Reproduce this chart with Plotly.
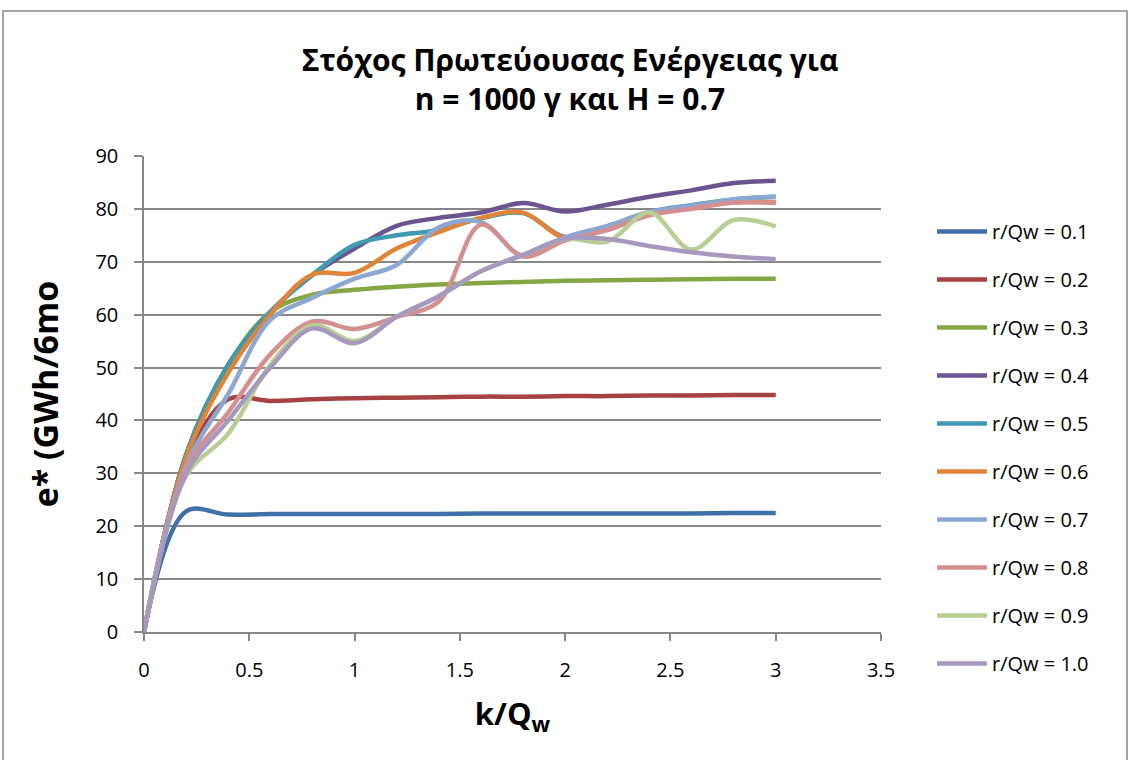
import plotly.graph_objects as go

# k/Qw sample points
k_qw = [0.0, 0.2, 0.4, 0.6, 0.8, 1.0, 1.2, 1.4, 1.6, 1.8, 2.0, 2.2, 2.4, 2.6, 2.8, 3.0]

# Primary energy target e* for each r/Qw ratio
e_r01 = [0, 22.8, 22.2, 22.3, 22.3, 22.3, 22.3, 22.3, 22.4, 22.4, 22.4, 22.4, 22.4, 22.4, 22.5, 22.5]
e_r02 = [0, 32.0, 44.0, 43.7, 44.0, 44.2, 44.3, 44.4, 44.5, 44.5, 44.6, 44.6, 44.7, 44.7, 44.8, 44.8]
e_r03 = [0, 33.5, 50.5, 60.5, 63.8, 64.7, 65.3, 65.7, 66.0, 66.2, 66.4, 66.5, 66.6, 66.7, 66.8, 66.8]
e_r04 = [0, 33.5, 50.5, 60.5, 67.5, 72.5, 76.8, 78.3, 79.3, 81.1, 79.5, 80.8, 82.3, 83.5, 84.9, 85.3]
e_r05 = [0, 33.5, 50.5, 60.5, 67.5, 73.2, 75.0, 76.0, 78.2, 79.2, 74.7, 76.7, 79.4, 80.7, 81.8, 82.3]
e_r06 = [0, 33.0, 49.0, 60.0, 67.6, 67.9, 72.5, 75.6, 78.3, 79.3, 74.5, 76.3, 78.9, 80.2, 81.2, 81.3]
e_r07 = [0, 31.5, 45.0, 59.0, 63.2, 66.8, 69.4, 76.5, 77.5, 71.2, 74.6, 76.8, 79.4, 80.6, 81.8, 82.3]
e_r08 = [0, 31.0, 41.5, 52.5, 58.7, 57.3, 59.6, 62.5, 77.0, 71.0, 74.0, 76.0, 78.8, 80.0, 81.2, 81.1]
e_r09 = [0, 29.5, 37.5, 50.5, 58.0, 55.0, 59.6, 63.5, 68.2, 71.3, 74.3, 73.8, 79.3, 72.3, 77.9, 76.7]
e_r10 = [0, 30.0, 40.0, 50.0, 57.4, 54.6, 59.6, 63.5, 68.2, 71.3, 74.4, 74.3, 73.0, 71.8, 71.0, 70.5]

series_names = ["r/Qw = 0.1", "r/Qw = 0.2", "r/Qw = 0.3", "r/Qw = 0.4", "r/Qw = 0.5",
                "r/Qw = 0.6", "r/Qw = 0.7", "r/Qw = 0.8", "r/Qw = 0.9", "r/Qw = 1.0"]
series_values = [e_r01, e_r02, e_r03, e_r04, e_r05, e_r06, e_r07, e_r08, e_r09, e_r10]
series_colors = ["#4070A8", "#A84242", "#86A646", "#6B5490", "#409AB0",
                 "#E08438", "#8DA8D0", "#D49090", "#B8CE94", "#A698BE"]

FONT = "Open Sans"
GRID = "#878787"

fig = go.Figure()
for name, vals, col in zip(series_names, series_values, series_colors):
    fig.add_trace(go.Scatter(
        x=k_qw, y=vals, name=name, mode="lines",
        line=dict(color=col, width=4.5, shape="spline", smoothing=1.0),
        legendgroup=name,
    ))

L, R, T, B = 144, 249, 156, 128
W, H = 1130, 760
pw, ph = W - L - R, H - T - B

fig.update_layout(
    width=W, height=H,
    margin=dict(l=L, r=R, t=T, b=B, pad=0),
    paper_bgcolor="white", plot_bgcolor="white",
    font=dict(family=FONT, size=20, color="#000000"),
    title=dict(
        text="Στόχος Πρωτεύουσας Ενέργειας για<br>n = 1000 γ και H = 0.7",
        x=570 / W, xanchor="center", xref="container",
        y=1 - 71 / H, yanchor="middle",
        font=dict(family=FONT, size=30, color="#000000", weight="bold"),
    ),
    xaxis=dict(
        range=[0, 3.5], dtick=0.5, tick0=0,
        showgrid=False, zeroline=False,
        showline=True, linecolor=GRID, linewidth=1.5,
        ticks="outside", ticklen=7, tickcolor=GRID, tickwidth=1.5,
        ticklabelstandoff=12,
        tickfont=dict(family=FONT, size=20),
        title=dict(text="k/Q<sub>w</sub>", standoff=22,
                   font=dict(family=FONT, size=31, weight="bold")),
    ),
    yaxis=dict(
        range=[0, 90], dtick=10, tick0=0,
        showgrid=True, gridcolor=GRID, gridwidth=1.5,
        zeroline=False,
        showline=True, linecolor=GRID, linewidth=1.5,
        ticks="outside", ticklen=8, tickcolor=GRID, tickwidth=1.5,
        ticklabelstandoff=12,
        tickfont=dict(family=FONT, size=20),
        title=dict(text="e* (GWh/6mo", standoff=26,
                   font=dict(family=FONT, size=34, weight="bold")),
    ),
    legend=dict(
        x=(937 - L - 5) / pw, y=(H - B - 212) / ph, xanchor="left", yanchor="top",
        font=dict(family=FONT, size=20),
        itemwidth=50,
        tracegroupgap=19, bgcolor="rgba(0,0,0,0)",
    ),
    showlegend=True,
)

# Chart frame
fig.add_shape(
    type="rect", xref="paper", yref="paper",
    x0=(3 - L) / pw, x1=(1127 - L) / pw,
    y0=(H - B - 770) / ph, y1=(H - B - 11) / ph,
    line=dict(color=GRID, width=1.5), fillcolor="rgba(0,0,0,0)", layer="below",
)

fig.write_html("out.html")
